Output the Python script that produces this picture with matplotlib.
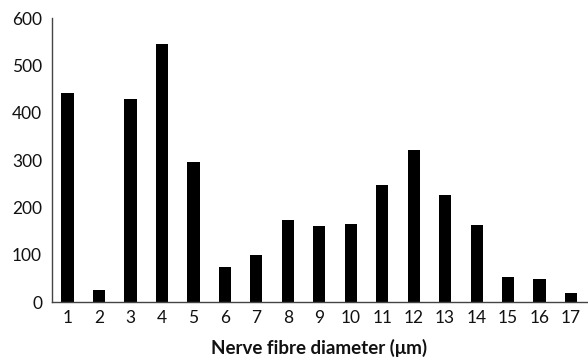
import matplotlib
matplotlib.use("Agg")
import matplotlib.pyplot as plt

plt.rcParams['font.family'] = ['Lato', 'DejaVu Sans']

diameters = list(range(1, 18))
counts = [442, 26, 430, 545, 296, 74, 100, 174, 160, 165, 247, 321, 227, 162, 54, 49, 19]
yticks = [0, 100, 200, 300, 400, 500, 600]

fig = plt.figure(figsize=(5.88, 3.61), dpi=100)
ax = fig.add_axes([0.088, 0.163, 0.91, 0.787])

ax.bar(diameters, counts, width=0.39, color="black")

ax.set_xlim(0.5, 17.5)
ax.set_ylim(0, 600)
ax.set_xticks(diameters)
ax.set_yticks(yticks)
ax.tick_params(length=0, labelsize=12.5, pad=6, labelcolor="#111111")
ax.tick_params(axis="y", pad=7)

for s in ["top", "right"]:
    ax.spines[s].set_visible(False)
for s in ["left", "bottom"]:
    ax.spines[s].set_color("#444444")
    ax.spines[s].set_linewidth(1.0)

ax.set_xlabel("Nerve fibre diameter (\u03bcm)", fontsize=13.5, fontweight="bold",
              labelpad=9, color="#111111")

fig.savefig("out.png", dpi=100)
